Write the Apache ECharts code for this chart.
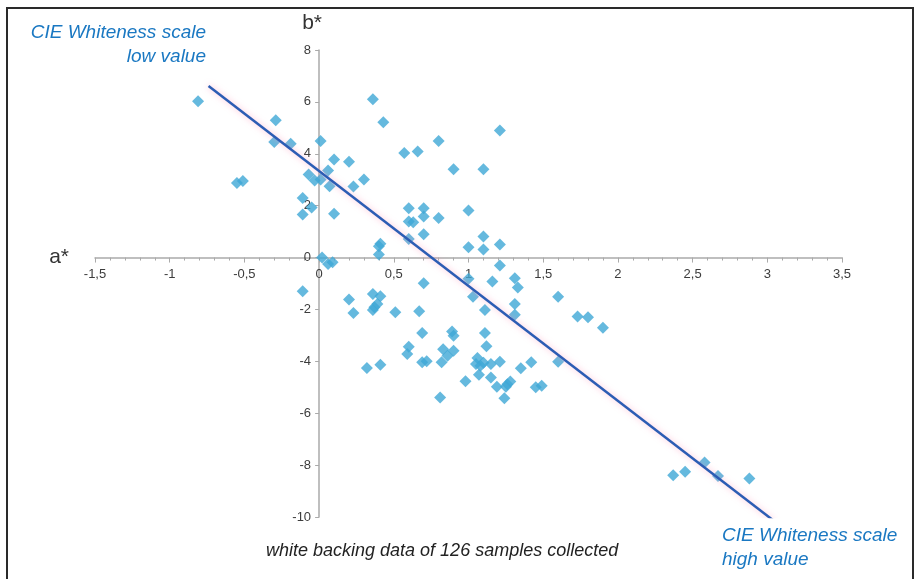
<!DOCTYPE html>
<html>
<head>
<meta charset="utf-8">
<script src="https://cdn.jsdelivr.net/npm/echarts@6/dist/echarts.min.js"></script>
<style>
  html, body { margin: 0; padding: 0; background: #fff; }
  #main { width: 922px; height: 579px; }
</style>
</head>
<body>
<div id="main"></div>
<script>
// a* values of the samples
var sampleA = [
  -0.81, -0.29, -0.30, -0.19, 0.01, -0.55, -0.51, -0.07, -0.03, 0.01,
  0.06, 0.07, 0.10, 0.20, 0.23, 0.30, -0.11, -0.11, -0.05, 0.10,
  0.36, 0.43, 0.57, 0.66, 0.80, 1.21, 0.90, 1.10, 0.60, 0.70,
  0.70, 0.60, 0.63, 0.80, 1.00, 0.70, 0.60, 1.10, 1.00, 1.10,
  1.21, 0.02, 0.06, 0.09, 0.40, 0.41, 0.40, 1.21, 1.31, 1.16,
  1.00, 1.33, 0.70, -0.11, 0.20, 0.23, 0.36, 0.41, 0.39, 0.36,
  0.51, 0.67, 0.69, 0.60, 0.59, 0.69, 0.72, 0.32, 0.41, 0.83,
  0.86, 0.82, 0.90, 0.89, 0.90, 0.81, 0.98, 1.03, 1.11, 1.11,
  1.12, 1.06, 1.05, 1.08, 1.07, 1.15, 1.15, 1.21, 1.19, 1.24,
  1.31, 1.31, 1.60, 1.73, 1.80, 1.90, 1.35, 1.42, 1.60, 1.26,
  1.28, 1.25, 1.45, 1.49, 2.37, 2.45, 2.58, 2.67, 2.88, 1.10,
  0.37
];
// b* values of the samples
var sampleB = [
  6.02, 5.29, 4.45, 4.39, 4.49, 2.87, 2.95, 3.20, 2.97, 3.01,
  3.36, 2.75, 3.78, 3.69, 2.74, 3.01, 2.30, 1.66, 1.93, 1.69,
  6.10, 5.22, 4.03, 4.09, 4.49, 4.90, 3.40, 3.40, 1.90, 1.90,
  1.58, 1.39, 1.36, 1.52, 1.81, 0.90, 0.72, 0.81, 0.40, 0.31,
  0.50, 0.00, -0.25, -0.18, 0.12, 0.53, 0.44, -0.31, -0.80, -0.92,
  -0.82, -1.15, -0.99, -1.30, -1.62, -2.14, -1.40, -1.49, -1.79, -2.02,
  -2.11, -2.07, -2.91, -3.44, -3.72, -4.04, -4.00, -4.26, -4.13, -3.53,
  -3.78, -4.04, -3.59, -2.85, -3.01, -5.39, -4.77, -1.51, -2.02, -2.91,
  -3.42, -3.87, -4.10, -4.17, -4.52, -4.62, -4.10, -4.02, -4.98, -5.42,
  -1.79, -2.20, -1.51, -2.27, -2.30, -2.71, -4.27, -4.04, -4.02, -4.88,
  -4.78, -4.98, -5.00, -4.94, -8.39, -8.26, -7.90, -8.42, -8.52, -4.05,
  -1.92
];
// regression line end points
var trendA = [-0.74, 3.04];
var trendB = [6.61, -10.13];

var xTicks = { min: -1.5, max: 3.5, step: 0.5 };
var yTicks = { min: -10, max: 8, step: 2 };

var points = sampleA.map(function (a, i) { return [a, sampleB[i]]; });
var trend = trendA.map(function (a, i) { return [a, trendB[i]]; });

function comma(v) {
  return String(v).replace('.', ',');
}

// grid box, used to move the axes onto the zero lines (labels included)
var gridL = 95, gridR = 80, gridT = 50, gridB = 62;
var W = 922, H = 579;
var gw = W - gridL - gridR, gh = H - gridT - gridB;
var zeroX = gridL + (0 - xTicks.min) / (xTicks.max - xTicks.min) * gw;
var zeroY = gridT + (yTicks.max - 0) / (yTicks.max - yTicks.min) * gh;

var myChart = echarts.init(document.getElementById('main'));
var blue = '#1a78c2';
var labelFont = { fontFamily: 'Liberation Sans', fontSize: 13, color: '#3c3c3c' };

var option = {
  animation: false,
  backgroundColor: '#fff',
  grid: { left: gridL, right: gridR, top: gridT, bottom: gridB },
  xAxis: {
    type: 'value',
    min: xTicks.min,
    max: xTicks.max,
    interval: xTicks.step,
    position: 'bottom',
    offset: -(H - gridB - zeroY),
    name: 'a*',
    nameLocation: 'start',
    nameGap: 26,
    nameTextStyle: { fontFamily: 'Liberation Sans', fontSize: 21, color: '#333', padding: [14, 0, 0, 0] },
    axisLine: { onZero: false, lineStyle: { color: '#aaa', width: 1.5 } },
    axisTick: { length: 5, lineStyle: { color: '#aaa' } },
    minorTick: { show: true, splitNumber: 5, length: 3, lineStyle: { color: '#aaa' } },
    splitLine: { show: false },
    axisLabel: Object.assign({ margin: 10, formatter: comma }, labelFont)
  },
  yAxis: {
    type: 'value',
    min: yTicks.min,
    max: yTicks.max,
    interval: yTicks.step,
    position: 'left',
    offset: -(zeroX - gridL),
    name: 'b*',
    nameLocation: 'end',
    nameGap: 16,
    nameTextStyle: { fontFamily: 'Liberation Sans', fontSize: 21, color: '#333', padding: [0, 14, 0, 0] },
    axisLine: { onZero: false, lineStyle: { color: '#aaa', width: 1.5 } },
    axisTick: { length: 4, lineStyle: { color: '#aaa' } },
    splitLine: { show: false },
    axisLabel: Object.assign({ margin: 8, formatter: comma }, labelFont)
  },
  series: [
    {
      type: 'scatter',
      symbol: 'diamond',
      symbolSize: 12,
      itemStyle: { color: '#3ea8d6' },
      data: points,
      z: 3
    },
    {
      type: 'line',
      data: trend,
      symbol: 'none',
      lineStyle: {
        color: '#2c5db4',
        width: 2.5,
        shadowColor: 'rgba(255,140,180,0.6)',
        shadowBlur: 6
      },
      z: 4
    }
  ],
  graphic: [
    {
      type: 'rect',
      shape: { x: 7, y: 8, width: 906, height: 620 },
      style: { fill: 'none', stroke: '#2a2a2a', lineWidth: 2 },
      silent: true
    },
    {
      type: 'text',
      right: W - 206,
      top: 23,
      style: { text: 'CIE Whiteness scale', fill: blue, font: 'italic 19px "Liberation Sans"' }
    },
    {
      type: 'text',
      right: W - 206,
      top: 47,
      style: { text: 'low value', fill: blue, font: 'italic 19px "Liberation Sans"' }
    },
    {
      type: 'text',
      left: 722,
      top: 526,
      style: { text: 'CIE Whiteness scale', fill: blue, font: 'italic 19px "Liberation Sans"' }
    },
    {
      type: 'text',
      left: 722,
      top: 550,
      style: { text: 'high value', fill: blue, font: 'italic 19px "Liberation Sans"' }
    },
    {
      type: 'text',
      left: 266,
      top: 542,
      style: {
        text: 'white backing data of 126 samples collected',
        fill: '#222',
        font: 'italic 18px "Liberation Sans"'
      }
    }
  ]
};
myChart.setOption(option);
</script>
</body>
</html>
